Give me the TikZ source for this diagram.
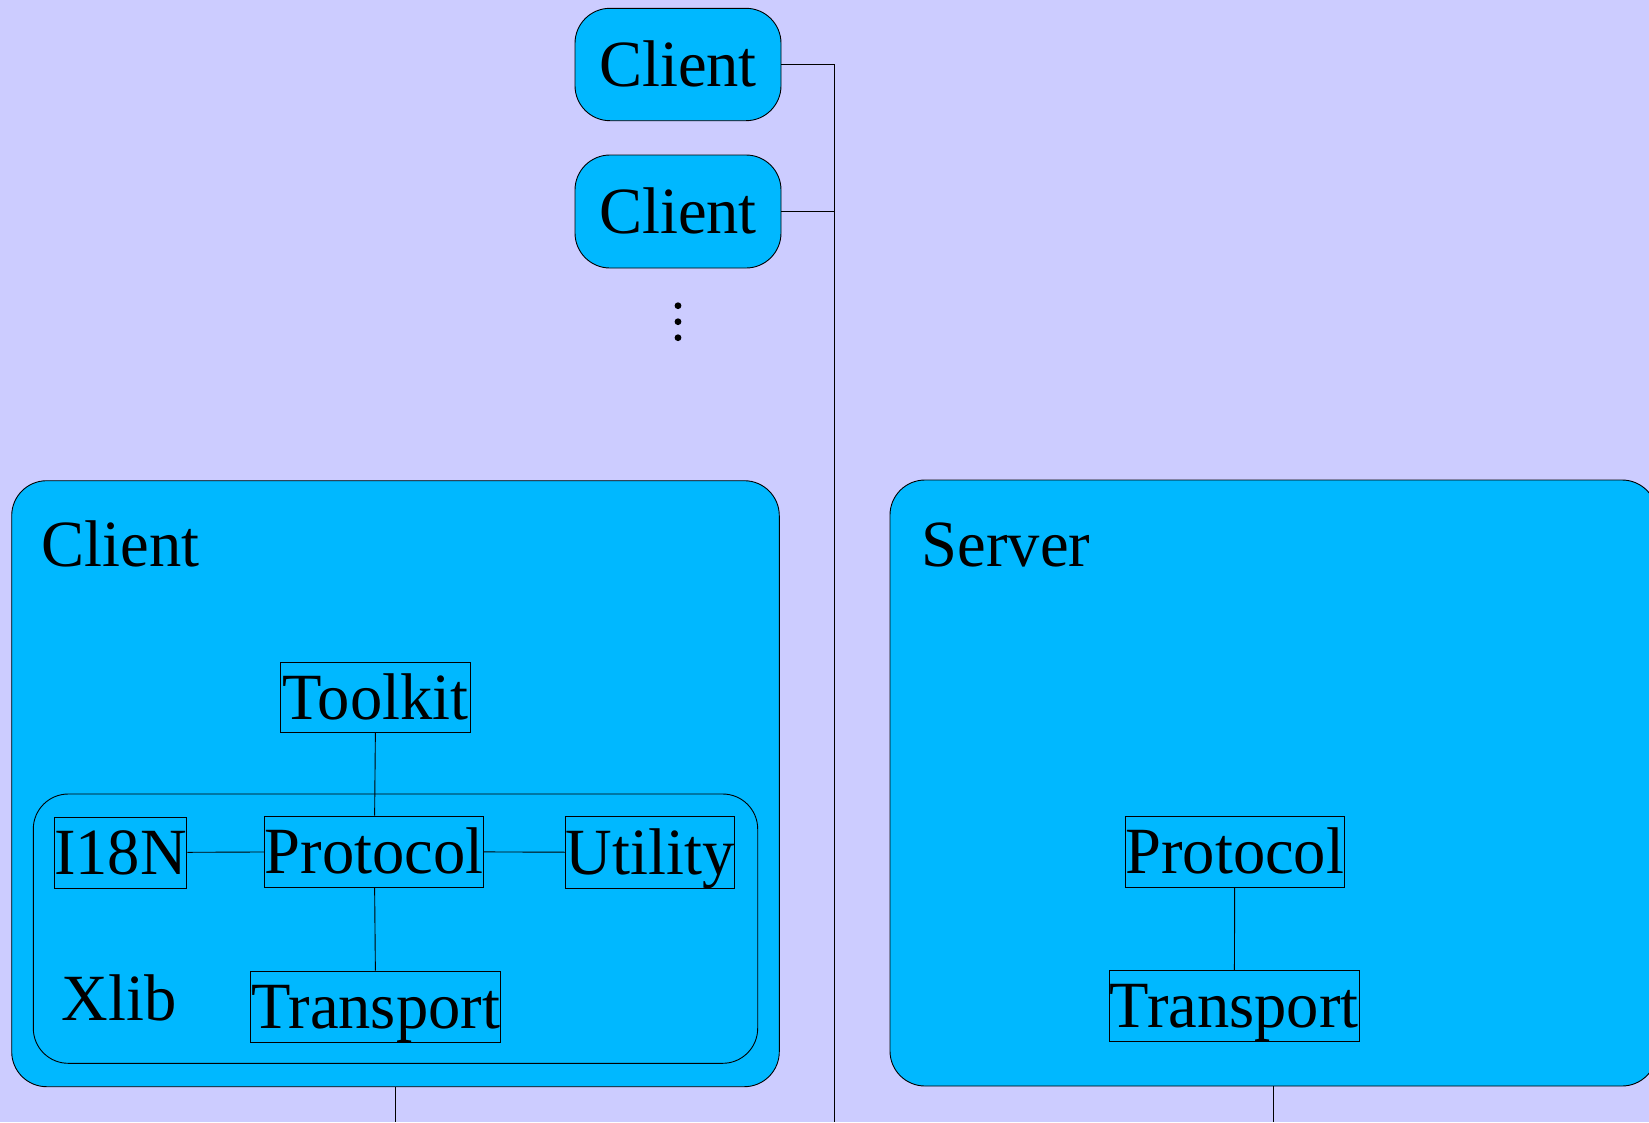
\documentclass[tikz,border=0pt]{standalone}
\usepackage{fontspec}
\setmainfont{Liberation Serif}[FakeStretch=0.978]
\definecolor{bgviolet}{RGB}{204,204,255}
\definecolor{boxblue}{RGB}{0,184,255}
\tikzset{
  bigfont/.style={font=\fontsize{66}{70}\selectfont},
  comp/.style={draw=black, fill=boxblue, inner sep=0pt, text height=43.5pt, text depth=0pt, bigfont, line width=0.9pt},
  grp/.style={draw=black, fill=boxblue, rounded corners=35pt, inner sep=0pt, line width=0.9pt},
  clientpill/.style={grp, bigfont, text height=43.5pt, text depth=0pt},
  title/.style={anchor=base west, inner sep=0pt, bigfont},
  wire/.style={line width=0.9pt, draw=black},
}
\begin{document}
\begin{tikzpicture}[x=1pt,y=-1pt]
\useasboundingbox (0,0) rectangle (1649,1122);
\fill[bgviolet] (0,0) rectangle (1649,1122);
\clip (0,0) rectangle (1649,1122);

% top clients
\node[clientpill, minimum width=206pt, minimum height=112.4pt] (c1) at (678,64.5) {Client};
\node[clientpill, minimum width=206pt, minimum height=113pt] (c2) at (678,211.5) {Client};
\fill (678,305.7) circle (3.4pt);
\fill (678,321.7) circle (3.4pt);
\fill (678,337.7) circle (3.4pt);

% big groups
\node[grp, minimum width=767.6pt, minimum height=606pt] (clientbox) at (395.5,783.7) {};
\node[grp, minimum width=767pt, minimum height=606pt] (serverbox) at (1273.5,783) {};
\node[grp, minimum width=724.4pt, minimum height=269.3pt] (xlib) at (395.5,928.65) {};

\node[title] (clientlbl) at (41.7,566.7) {Client};
\node[title] (serverlbl) at (921.7,566.7) {Server};
\node[title] (xliblbl) at (61.7,1020.7) {Xlib};

% components
\node[comp, minimum width=190pt, minimum height=70.7pt] (toolkit) at (375.7,697.3) {Toolkit};
\node[comp, minimum width=131.6pt, minimum height=71.3pt] (i18n) at (120.5,852.6) {I18N};
\node[comp, minimum width=217.3pt, minimum height=71pt] (cproto) at (374.3,851.5) {Protocol};
\node[comp, minimum width=168.3pt, minimum height=71.6pt] (util) at (650.2,852.5) {Utility};
\node[comp, minimum width=250pt, minimum height=71.3pt] (ctrans) at (375.7,1006.6) {Transport};
\node[comp, minimum width=217.7pt, minimum height=71.3pt] (sproto) at (1234.8,851.6) {Protocol};
\node[comp, minimum width=250pt, minimum height=71pt] (strans) at (1234.3,1005.8) {Transport};

% connectors
\draw[wire] (toolkit) -- (cproto);
\draw[wire] (i18n) -- (cproto);
\draw[wire] (cproto) -- (util);
\draw[wire] (cproto) -- (ctrans);
\draw[wire] (sproto) -- (strans);

\coordinate (busx) at (834.3,1122);
\draw[wire] (c1.east) -| (busx);
\draw[wire] (c2.east) -- (c2.east -| busx);
\coordinate (cbot) at (395.5,1122);
\draw[wire] (clientbox.south) -- (cbot);
\coordinate (sbot) at (1273.5,1122);
\draw[wire] (serverbox.south) -- (sbot);
\end{tikzpicture}
\end{document}
